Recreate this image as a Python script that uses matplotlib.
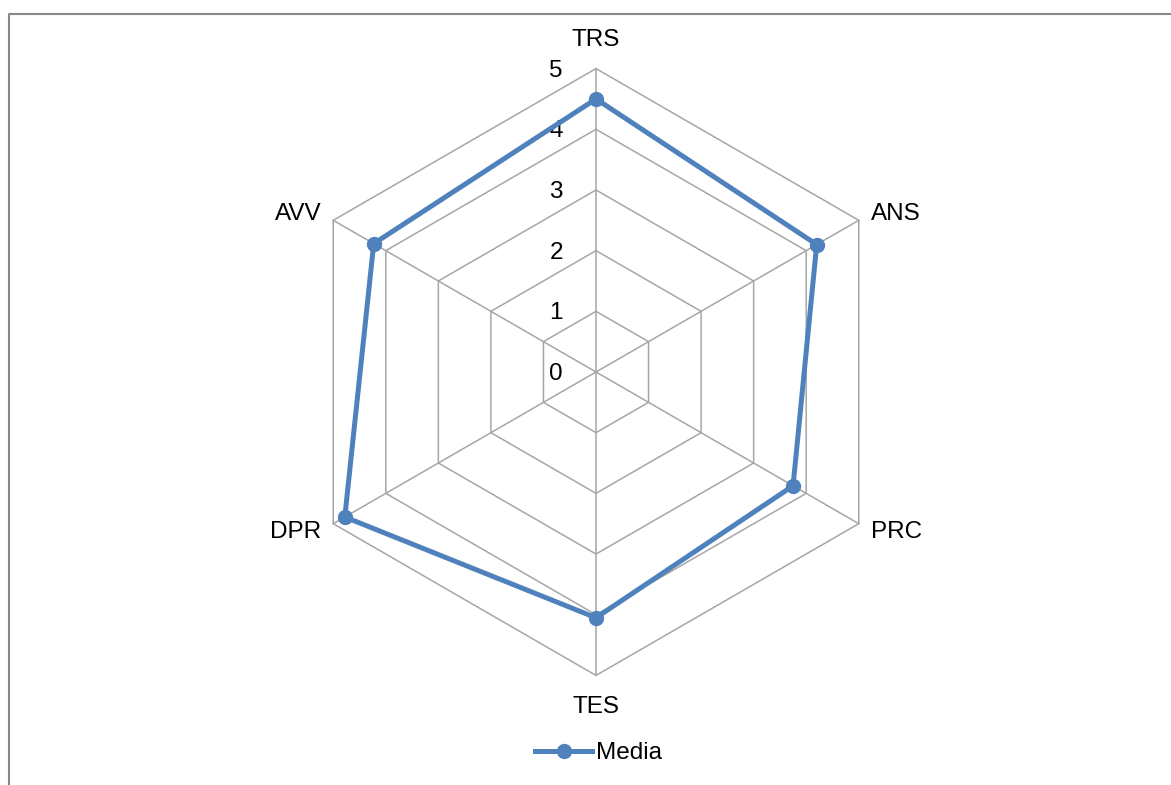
import numpy as np
import matplotlib
matplotlib.use('Agg')
import matplotlib.pyplot as plt
from matplotlib.lines import Line2D

categories = ['TRS', 'ANS', 'PRC', 'TES', 'DPR', 'AVV']
media = [4.5, 4.2, 3.75, 4.05, 4.78, 4.23]
ring_levels = [0, 1, 2, 3, 4, 5]
tick_labels = ['0', '1', '2', '3', '4', '5']
series_name = 'Media'

plt.rcParams['font.family'] = ['Liberation Sans', 'DejaVu Sans']
FS = 17.5

W, H = 1171, 785
fig = plt.figure(figsize=(W / 100, H / 100), dpi=100)
ax = fig.add_axes([0, 0, 1, 1])
cx, cy = 596, 372
scale = 60.68
ax.set_xlim(-cx / scale, (W - cx) / scale)
ax.set_ylim(-(H - cy) / scale, cy / scale)
ax.set_aspect('equal', adjustable='box')
ax.axis('off')

n = len(categories)
ang = np.pi / 2 - 2 * np.pi * np.arange(n) / n
ux, uy = np.cos(ang), np.sin(ang)
rmax = ring_levels[-1]
grid_color = '#a6a6a6'
px = 1 / scale

for r in ring_levels[1:]:
    ax.plot(np.append(ux * r, ux[0] * r), np.append(uy * r, uy[0] * r),
            color=grid_color, lw=1.1, zorder=1)
for i in range(n):
    ax.plot([0, ux[i] * rmax], [0, uy[i] * rmax], color=grid_color, lw=1.1, zorder=1)

for r, t in zip(ring_levels, tick_labels):
    ax.text(-33 * px, r - 8 * px, t, ha='right', va='baseline', fontsize=FS,
            color='black', zorder=3)

for i, c in enumerate(categories):
    x, y = ux[i] * rmax, uy[i] * rmax
    if abs(ux[i]) < 1e-6:
        if uy[i] > 0:
            ax.text(0, y + 22.5 * px, c, ha='center', va='baseline', fontsize=FS)
        else:
            ax.text(0, y - 38 * px, c, ha='center', va='baseline', fontsize=FS)
    else:
        dy = 0 if uy[i] > 0 else -14 * px
        if ux[i] > 0:
            ax.text(x + 12 * px, y + dy, c, ha='left', va='baseline', fontsize=FS)
        else:
            ax.text(x - 12 * px, y + dy, c, ha='right', va='baseline', fontsize=FS)

vals = np.array(media)
xs = np.append(ux * vals, ux[0] * vals[0])
ys = np.append(uy * vals, uy[0] * vals[0])
ax.plot(xs, ys, color='#4f81bd', lw=3.6, marker='o', markersize=10,
        markevery=list(range(n)), zorder=4, solid_joinstyle='round')

handle = Line2D([], [], color='#4f81bd', lw=3.6, marker='o', markersize=10)
fig.legend([handle], [series_name], loc='center', bbox_to_anchor=(0.511, 1 - 753 / H),
           frameon=False, fontsize=FS, handlelength=2.35, handletextpad=0.15,
           borderpad=0, borderaxespad=0)

fig.add_artist(Line2D([9 / W, 9 / W, 1.0], [0, 1 - 14 / H, 1 - 14 / H],
                      transform=fig.transFigure, color='#888888', lw=1.5))

fig.savefig('out.png', dpi=100)
